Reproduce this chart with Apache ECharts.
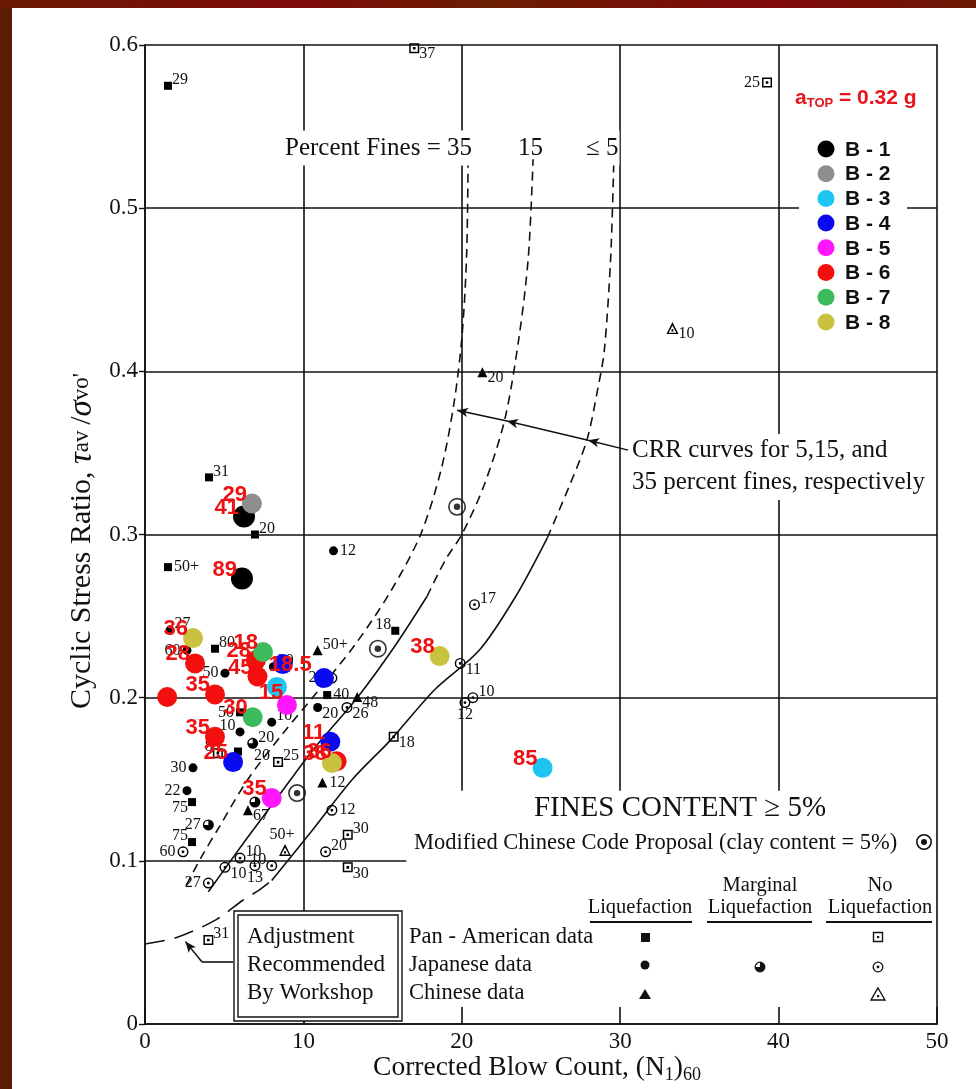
<!DOCTYPE html>
<html>
<head>
<meta charset="utf-8">
<title>CRR chart</title>
<script src="https://cdn.jsdelivr.net/npm/echarts@6.0.0/dist/echarts.min.js"></script>
<style>html,body{margin:0;padding:0;background:#fff}#c{width:976px;height:1089px}</style>
</head>
<body>
<div id="c"></div>
<script>
// ---------- axis ticks ----------
const xTicks = [0, 10, 20, 30, 40, 50];
const yTicks = [0, 0.1, 0.2, 0.3, 0.4, 0.5, 0.6];

// ---------- CRR curves [N1_60, CSR] ----------
const crr35 = [[2.6,0.085],[3.6,0.103],[4.7,0.121],[6.5,0.150],[8.7,0.178],[11.0,0.205],[13.3,0.233],[15.5,0.265],[17.4,0.300],[18.7,0.340],[19.5,0.380],[20.0,0.420],[20.3,0.470],[20.4,0.530]];
const crr15Solid = [[4.0,0.081],[6.3,0.112],[8.3,0.138],[10.6,0.168],[13.4,0.200],[15.8,0.232],[17.8,0.262]];
const crr15Dash = [[17.8,0.262],[19.0,0.285],[20.0,0.300],[21.4,0.330],[22.7,0.370],[23.6,0.420],[24.2,0.470],[24.5,0.530]];
const crr5Solid = [[8.0,0.088],[10.5,0.118],[13.1,0.150],[15.5,0.174],[18.3,0.205],[21.1,0.229],[23.4,0.262],[25.4,0.298]];
const crr5Dash = [[25.4,0.298],[26.8,0.330],[27.9,0.358],[28.6,0.390],[29.0,0.413],[29.4,0.470],[29.6,0.530]];
const adjCurve = [[0,0.049],[2,0.053],[4.5,0.064],[6.2,0.076],[7.2,0.082],[8.0,0.088]];

// ---------- case histories [N1_60, CSR, fines label] ----------
const panLiq = [[1.45,0.575,'29'],[4.04,0.335,'31'],[6.94,0.300,'20'],[1.45,0.280,'50+'],[4.42,0.230,'80'],[15.8,0.241,'18'],[11.5,0.2016,'40'],[6.0,0.191,'50'],[5.87,0.167,'20'],[2.97,0.136,'75'],[2.97,0.1115,'75']];
const panLiqPos = ['tr','tr','tr','r','tr','tl','r','l','r2','bl','tl'];
const panNo = [[17.0,0.598,'37'],[39.27,0.577,'25'],[15.7,0.176,'18'],[8.4,0.1605,'25'],[12.8,0.116,'30'],[12.8,0.096,'30'],[4.0,0.0515,'31'],[4.6,0.166,'8']];
const panNoPos = ['br','l','br','tr','tr','br','tr','tl'];
const japLiq = [[11.9,0.290,'12'],[1.58,0.2414,'27'],[2.65,0.229,'60'],[5.05,0.215,'50'],[8.1,0.219,'20'],[10.9,0.194,'20'],[8.0,0.185,'10'],[6.0,0.179,'10'],[3.03,0.157,'30'],[2.65,0.143,'22']];
const japLiqPos = ['r','tr','l','l','tr','br','tr','tl','l','l'];
const japMarg = [[6.8,0.172,'20'],[6.94,0.136,''],[4.0,0.122,'27']];
const japMargPos = ['tr','tr','l'];
const japNo = [[12.75,0.194,'26'],[19.9,0.221,'11'],[20.7,0.200,'10'],[20.2,0.197,'12'],[20.8,0.257,'17'],[11.8,0.131,'12'],[11.4,0.1055,'20'],[2.4,0.1055,'60'],[5.05,0.096,'10'],[6.0,0.1017,'10'],[6.94,0.097,'13'],[8.0,0.097,'10'],[4.0,0.0864,'27'],[11.8,0.212,'20']];
const japNoPos = ['br','br','tr','b','tr','r','tr','l','br','tr','b','tl','l','l'];
const chnLiq = [[21.3,0.3995,'20'],[10.9,0.229,'50+'],[13.4,0.2004,'48'],[11.2,0.148,'12'],[6.5,0.131,'67']];
const chnLiqPos = ['br','tr','br','r','br'];
const chnNo = [[33.3,0.4265,'10'],[8.84,0.1066,'50+']];
const chnNoPos = ['br','t'];
const modChinese = [[19.7,0.317],[14.7,0.230],[9.6,0.1415]];

// ---------- site borings B-1 .. B-8 [N1_60, CSR, fines %] ----------
const boreNames = ['B - 1','B - 2','B - 3','B - 4','B - 5','B - 6','B - 7','B - 8'];
const b1 = [[6.25,0.311,'41'],[6.12,0.273,'89']];
const b2 = [[6.75,0.319,'29']];
const b3 = [[8.33,0.2066,'15'],[25.1,0.157,'85']];
const b4 = [[8.7,0.2206,'18.5'],[11.3,0.212,''],[5.56,0.1605,'25'],[11.7,0.173,'11']];
const b5 = [[8.96,0.1955,''],[8.0,0.1385,'35']];
const b6 = [[1.4,0.2004,''],[3.16,0.221,'28'],[4.42,0.202,'35'],[4.42,0.176,'35'],[7.1,0.213,'45'],[7.0,0.223,'28'],[12.1,0.161,'36']];
const b7 = [[7.45,0.228,'18'],[6.8,0.188,'30']];
const b8 = [[3.03,0.2365,'36'],[18.6,0.2255,'38'],[11.8,0.160,'38']];
const bData = [b1,b2,b3,b4,b5,b6,b7,b8];
const bPos = [['TL','TL'],['TL'],['C','TL'],['IN','TL','TL','TL'],['TL','TL'],['TL','TL','TL','TL','TL','TL','TL'],['TL','TL'],['TL','TL','TL']];
const bColors = ['#000000','#8e8e8e','#1ec4f2','#0a0af0','#ff16ff','#f40f0f','#3dbb5c','#c9c23e'];

// ---------- rendering ----------
const SERIF = 'Liberation Serif', SANS = 'Liberation Sans';
const P_SQDOT = 'path://M0,0L10,0L10,10L0,10Z M1.5,1.5L1.5,8.5L8.5,8.5L8.5,1.5Z M3.7,3.7L6.3,3.7L6.3,6.3L3.7,6.3Z';
const P_CIRDOT = 'path://M5,0A5,5,0,1,1,5,10A5,5,0,1,1,5,0Z M5,1.3A3.7,3.7,0,1,0,5,8.7A3.7,3.7,0,1,0,5,1.3Z M5,3.7A1.3,1.3,0,1,1,5,6.3A1.3,1.3,0,1,1,5,3.7Z';
const P_MARG = 'path://M5,0A5,5,0,1,1,5,10A5,5,0,1,1,5,0Z M5,1.3A3.7,3.7,0,1,0,5,8.7A3.7,3.7,0,1,0,5,1.3Z M5,5L5,1.3A3.7,3.7,0,1,1,1.3,5Z';
const P_TRIDOT = 'path://M5,0L10,9L0,9Z M5,2.5L1.8,7.9L8.2,7.9Z M4.2,5.4L5.8,5.4L5.8,7L4.2,7Z';
const P_BULL = 'path://M5,0A5,5,0,1,1,5,10A5,5,0,1,1,5,0Z M5,0.9A4.1,4.1,0,1,0,5,9.1A4.1,4.1,0,1,0,5,0.9Z M5,3.2A1.8,1.8,0,1,1,5,6.8A1.8,1.8,0,1,1,5,3.2Z';

function place(code, s) {
  const c = s / 2;
  switch (code) {
    case 'r':  return {position:[s+2, c], align:'left', verticalAlign:'middle'};
    case 'r2': return {position:[s+12, c+4], align:'left', verticalAlign:'middle'};
    case 'l':  return {position:[-2, c], align:'right', verticalAlign:'middle'};
    case 'tr': return {position:[s, c+2], align:'left', verticalAlign:'bottom'};
    case 'br': return {position:[s, c-2], align:'left', verticalAlign:'top'};
    case 'tl': return {position:[0, c+2], align:'right', verticalAlign:'bottom'};
    case 'bl': return {position:[0, c-2], align:'right', verticalAlign:'top'};
    case 't':  return {position:[c-3, -1], align:'center', verticalAlign:'bottom'};
    case 'b':  return {position:[c, s-1], align:'center', verticalAlign:'top'};
    case 'TL': return {position:[c-5, c+2], align:'right', verticalAlign:'bottom'};
    case 'IN': return {position:[c-14, c+1], align:'left', verticalAlign:'middle'};
    case 'C':  return {position:[c-6, c+6], align:'center', verticalAlign:'middle'};
  }
  return {};
}
function pts(arr, pos, s) {
  return arr.map((d, i) => ({
    value: [d[0], d[1]],
    label: Object.assign({show: !!d[2], formatter: d[2] || ''}, place(pos ? pos[i] : 'r', s))
  }));
}
function symSeries(name, arr, pos, symbol, size) {
  return {type:'scatter', name, symbol, symbolSize:size, data:pts(arr, pos, size), z:4, silent:true,
    itemStyle:{color:'#000', opacity:1},
    label:{color:'#111', fontFamily:SERIF, fontSize:16}};
}

const gridMarks = [];
xTicks.slice(1, -1).forEach(x => gridMarks.push([{coord:[x, x === 10 ? 0 : 0.143]}, {coord:[x, 0.6]}]));
yTicks.slice(1, -1).forEach(y => gridMarks.push([{coord:[0, y]}, {coord:[y === 0.1 ? 16.5 : 50, y]}]));
gridMarks.push([{coord:[5.56, 0.038]}, {coord:[3.6, 0.038]}]);
const arrowMarks = [
  [{coord:[30.5, 0.3517]}, {coord:[27.97, 0.3578]}],
  [{coord:[27.97, 0.3578]}, {coord:[22.85, 0.3695]}],
  [{coord:[22.85, 0.3695]}, {coord:[19.7, 0.3762]}],
  [{coord:[3.6, 0.038]}, {coord:[2.55, 0.0505]}]
];

function curve(data, dash, extra) {
  return Object.assign({type:'line', data, symbol:'none', smooth:0.3, z:3, silent:true,
    lineStyle:{color:'#111', width:1.6, type:dash || 'solid'}}, extra || {});
}

const series = [
  curve(crr35, [9, 6], {markLine:{silent:true, symbol:['none','none'], label:{show:false}, animation:false,
    lineStyle:{color:'#111', width:1.6, type:'solid'}, data:gridMarks}}),
  curve(crr15Solid),
  curve(crr15Dash, [9, 6]),
  curve(crr5Solid, null, {markLine:{silent:true, symbol:['none','arrow'], symbolSize:[7, 11], label:{show:false}, animation:false,
    lineStyle:{color:'#111', width:1.5, type:'solid'}, data:arrowMarks}}),
  curve(crr5Dash, [9, 6]),
  curve(adjCurve, [20, 10]),
  symSeries('panLiq', panLiq, panLiqPos, 'rect', 8),
  symSeries('panNo', panNo, panNoPos, P_SQDOT, 10),
  symSeries('japLiq', japLiq, japLiqPos, 'circle', 9),
  symSeries('japMarg', japMarg, japMargPos, P_MARG, 11),
  symSeries('japNo', japNo, japNoPos, P_CIRDOT, 11),
  symSeries('chnLiq', chnLiq, chnLiqPos, 'triangle', 10),
  symSeries('chnNo', chnNo, chnNoPos, P_TRIDOT, 12),
  {type:'scatter', name:'modChinese', symbol:P_BULL, symbolSize:18, data:modChinese, z:4, silent:true, itemStyle:{color:'#000'}}
];
bData.forEach((arr, k) => {
  const s = k === 0 ? 22 : 20;
  series.push({type:'scatter', name:boreNames[k], symbol:'circle', symbolSize:s, z:6, silent:true,
    itemStyle:{color:bColors[k], opacity:1},
    label:{color:'#ee1111', fontFamily:SANS, fontWeight:'bold', fontSize:22},
    data: pts(arr, bPos[k], s)});
});

// ---------- graphic annotations ----------
function T(x, y, text, st, extra) {
  return Object.assign({type:'text', x, y, z:60, silent:true,
    style:Object.assign({text, fill:'#111', fontFamily:SERIF, fontSize:20, align:'left', verticalAlign:'middle'}, st || {})}, extra || {});
}
const G = [];
G.push({type:'rect', z:100, shape:{x:0, y:0, width:12, height:1089}, style:{fill:'#5c1e02'}});
G.push({type:'rect', z:100, shape:{x:0, y:0, width:976, height:8},
  style:{fill:new echarts.graphic.LinearGradient(0, 0, 1, 0, [{offset:0, color:'#6a1a04'}, {offset:0.3, color:'#7e0a08'}, {offset:0.5, color:'#6a1e02'}, {offset:0.8, color:'#80080a'}, {offset:1, color:'#6a1a04'}])}});
// curve labels
G.push(T(283, 148, 'Percent Fines = 35', {fontSize:25, backgroundColor:'#fff', padding:[5, 2, 5, 2]}));
G.push(T(518, 148, '15', {fontSize:25}));
G.push(T(585, 148, '≤ 5', {fontSize:25, backgroundColor:'#fff', padding:[5, 1, 5, 1]}));
// a_TOP
G.push(T(795, 98, '{a|a}{s|TOP}{a| = 0.32 g}', {fill:'#e8141c', rich:{
  a:{fontFamily:SANS, fontWeight:'bold', fontSize:21, fill:'#e8141c', lineHeight:24},
  s:{fontFamily:SANS, fontWeight:'bold', fontSize:13, fill:'#e8141c', lineHeight:12, verticalAlign:'bottom'}}}));
// boring legend
G.push({type:'rect', z:55, silent:true, shape:{x:799, y:132, width:108, height:204}, style:{fill:'#fff'}});
boreNames.forEach((n, k) => {
  const y = 149 + k * 24.7;
  G.push({type:'circle', z:61, silent:true, shape:{cx:826, cy:y, r:8.5}, style:{fill:bColors[k]}});
  G.push(T(845, y + 1, n, {fontFamily:SANS, fontWeight:'bold', fontSize:21, fill:'#111'}));
});
// CRR note
G.push(T(630, 434, 'CRR curves for 5,15, and\n35 percent fines, respectively', {fontSize:25, lineHeight:32, verticalAlign:'top', backgroundColor:'#fff', padding:[0, 4, 2, 2]}));
// fines content block
G.push(T(680, 808, 'FINES CONTENT ≥ 5%', {fontSize:29, align:'center'}));
G.push(T(414, 843, 'Modified Chinese Code Proposal (clay content = 5%)', {fontSize:22.5}));
G.push({type:'circle', z:61, silent:true, shape:{cx:924, cy:842, r:7.2}, style:{fill:'none', stroke:'#111', lineWidth:1.6}});
G.push({type:'circle', z:61, silent:true, shape:{cx:924, cy:842, r:3}, style:{fill:'#111'}});
// table
G.push(T(640, 908, 'Liquefaction', {fontSize:20.5, align:'center'}));
G.push(T(760, 886, 'Marginal', {fontSize:20.5, align:'center'}));
G.push(T(760, 908, 'Liquefaction', {fontSize:20.5, align:'center'}));
G.push(T(880, 886, 'No', {fontSize:20.5, align:'center'}));
G.push(T(880, 908, 'Liquefaction', {fontSize:20.5, align:'center'}));
[[590, 692], [707, 812], [826, 932]].forEach(r => G.push({type:'line', z:61, silent:true, shape:{x1:r[0], y1:922, x2:r[1], y2:922}, style:{stroke:'#111', lineWidth:2}}));
G.push(T(409, 937, 'Pan - American data', {fontSize:22.5}));
G.push(T(409, 965, 'Japanese data', {fontSize:22.5}));
G.push(T(409, 993, 'Chinese data', {fontSize:22.5}));
G.push({type:'rect', z:61, silent:true, shape:{x:641, y:933, width:9, height:9}, style:{fill:'#111'}});
G.push({type:'rect', z:61, silent:true, shape:{x:873.5, y:932.5, width:9, height:9}, style:{fill:'none', stroke:'#111', lineWidth:1.4}});
G.push({type:'rect', z:61, silent:true, shape:{x:877, y:936, width:2.2, height:2.2}, style:{fill:'#111'}});
G.push({type:'circle', z:61, silent:true, shape:{cx:645, cy:965, r:4.5}, style:{fill:'#111'}});
G.push({type:'circle', z:61, silent:true, shape:{cx:760, cy:967, r:4.8}, style:{fill:'#fff', stroke:'#111', lineWidth:1.3}});
G.push({type:'sector', z:62, silent:true, shape:{cx:760, cy:967, r:4.5, r0:0, startAngle:-Math.PI/2, endAngle:Math.PI}, style:{fill:'#111'}});
G.push({type:'circle', z:61, silent:true, shape:{cx:878, cy:967, r:4.8}, style:{fill:'#fff', stroke:'#111', lineWidth:1.3}});
G.push({type:'circle', z:62, silent:true, shape:{cx:878, cy:967, r:1.4}, style:{fill:'#111'}});
G.push({type:'polygon', z:61, silent:true, shape:{points:[[645, 989], [651, 999], [639, 999]]}, style:{fill:'#111'}});
G.push({type:'polygon', z:61, silent:true, shape:{points:[[878, 988], [885, 1000], [871, 1000]]}, style:{fill:'#fff', stroke:'#111', lineWidth:1.4}});
G.push({type:'rect', z:62, silent:true, shape:{x:877, y:995, width:2.2, height:2.2}, style:{fill:'#111'}});
// adjustment box
G.push({type:'rect', z:58, silent:true, shape:{x:234, y:911, width:168, height:110}, style:{fill:'#fff', stroke:'#111', lineWidth:1.4}});
G.push({type:'rect', z:59, silent:true, shape:{x:238, y:915, width:160, height:102}, style:{fill:'none', stroke:'#111', lineWidth:1.4}});
G.push(T(247, 937, 'Adjustment', {fontSize:23}));
G.push(T(247, 965, 'Recommended', {fontSize:23}));
G.push(T(247, 993, 'By Workshop', {fontSize:23}));
// axis titles
G.push(T(537, 1068, '{m|Corrected Blow Count, (N}{s|1}{m|)}{s|60}', {align:'center', rich:{
  m:{fontFamily:SERIF, fontSize:27.5, fill:'#111', lineHeight:32},
  s:{fontFamily:SERIF, fontSize:18, fill:'#111', lineHeight:16, verticalAlign:'bottom'}}}));
G.push(T(82, 541, '{m|Cyclic Stress Ratio, }{i|τ}{s|av }{m|/}{i|σ}{s|vo\'}', {align:'center', rich:{
  m:{fontFamily:SERIF, fontSize:30, fill:'#111', lineHeight:34},
  i:{fontFamily:SERIF, fontSize:33, fontStyle:'italic', fill:'#111', lineHeight:34},
  s:{fontFamily:SERIF, fontSize:23, fill:'#111', lineHeight:28}}}, {rotation:Math.PI / 2}));

const chart = echarts.init(document.getElementById('c'), null, {renderer:'canvas'});
chart.setOption({
  animation:false,
  backgroundColor:'#fff',
  grid:{left:145, top:45, width:792, height:979, show:true, borderColor:'#111', borderWidth:1.6, backgroundColor:'#fff'},
  xAxis:{type:'value', min:xTicks[0], max:xTicks[xTicks.length - 1], interval:10,
    axisLine:{show:true, lineStyle:{color:'#111', width:1.6}},
    axisTick:{show:true, inside:true, length:17, lineStyle:{color:'#111', width:1.6}},
    axisLabel:{fontFamily:SERIF, fontSize:23, color:'#111', margin:6},
    splitLine:{show:false}},
  yAxis:{type:'value', min:yTicks[0], max:yTicks[yTicks.length - 1], interval:0.1,
    axisLine:{show:true, lineStyle:{color:'#111', width:1.6}},
    axisTick:{show:true, inside:false, length:6, lineStyle:{color:'#111', width:1.4}},
    axisLabel:{fontFamily:SERIF, fontSize:23, color:'#111', margin:7, formatter:v => v === 0 ? '0' : v.toFixed(1)},
    splitLine:{show:false}},
  graphic:{elements:G},
  series
});
</script>
</body>
</html>
